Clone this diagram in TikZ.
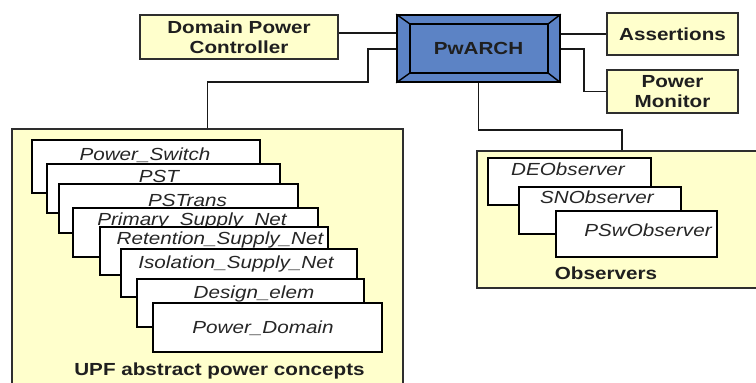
\documentclass[tikz,border=0pt]{standalone}
\usepackage{fontspec}
\setmainfont{Liberation Sans}[FakeStretch=1.18]
\definecolor{boxyellow}{RGB}{255,255,204}
\definecolor{pwblue}{RGB}{92,131,197}
\begin{document}
\begin{tikzpicture}[x=1pt,y=-1pt,
  ybox/.style={draw=black!82, fill=boxyellow, line width=1.7pt, inner sep=0pt, align=center,
    font=\bfseries\fontsize{17.5}{20}\selectfont, text=black!88},
  card/.style={draw=black, fill=white, line width=1.4pt, inner sep=0pt},
  cardtext/.style={font=\itshape\fontsize{17.5}{20}\selectfont, inner sep=0pt, text=black!85, anchor=base},
  boldlabel/.style={font=\bfseries\fontsize{17.5}{20}\selectfont, inner sep=0pt, text=black!88, anchor=base},
  conn/.style={draw=black!90, line width=1.8pt},
]
\useasboundingbox (0,0) rectangle (756,383);
\clip (0,0) rectangle (756,383);
\fill[white] (0,0) rectangle (756,383);

% helper coordinates
\coordinate (y33) at (0,33);
\coordinate (y49) at (0,49);
\coordinate (r1) at (368,82);
\coordinate (r2) at (622,130);
\coordinate (x584) at (584,0);

% top boxes
\node[ybox, minimum width=198pt, minimum height=44pt] (DPC) at (239,37) {Domain Power\\Controller};
\node[ybox, minimum width=131pt, minimum height=42pt] (AS) at (672.5,34) {Assertions};
\node[ybox, minimum width=131pt, minimum height=43pt] (PM) at (672.5,91.5) {Power\\Monitor};

% PwARCH beveled box
\node[draw=black, fill=pwblue, line width=1.6pt, minimum width=163pt, minimum height=67pt,
      inner sep=0pt] (PW) at (478.5,48.5) {};
\coordinate (PWi1) at ([shift={(14,10)}]PW.north west);
\coordinate (PWi2) at ([shift={(-13,10)}]PW.north east);
\coordinate (PWi3) at ([shift={(-13,-10)}]PW.south east);
\coordinate (PWi4) at ([shift={(14,-10)}]PW.south west);
\draw[line width=1.6pt, line join=miter] (PWi1) -- (PWi2) -- (PWi3) -- (PWi4) -- cycle;
\draw[line width=1.4pt] (PW.north west) -- (PWi1) (PW.north east) -- (PWi2)
  (PW.south east) -- (PWi3) (PW.south west) -- (PWi4);
\node[font=\bfseries\fontsize{17.5}{20}\selectfont, text=black!88, inner sep=0pt] (PWt) at (478.5,48) {PwARCH};

% container boxes
\node[ybox, minimum width=391pt, minimum height=266pt] (UPF) at (207.5,262) {};
\node[ybox, minimum width=283pt, minimum height=137pt] (OBS) at (618.5,219.5) {};

% connectors
\draw[conn] (DPC.east |- y33) -- (PW.west |- y33);
\draw[conn] (PW.east |- AS.west) -- (AS.west);
\draw[conn] (PW.west |- y49) -| (r1) -| (UPF.north);
\draw[conn] (PW.east |- y49) -- (x584 |- y49) |- (PM.west);
\draw[conn] (PW.south) |- (r2) -- (r2 |- OBS.north);

% UPF cards
\node[card, minimum width=228pt, minimum height=53pt] (cPS) at (146,166.5) {};
\node[cardtext] (tPS) at (145,160) {Power\_Switch};
\node[card, minimum width=233pt, minimum height=49pt] (cPST) at (163.5,188.5) {};
\node[cardtext] (tPST) at (159,182) {PST};
\node[card, minimum width=239pt, minimum height=49pt] (cPSTr) at (178.5,208.5) {};
\node[cardtext] (tPSTr) at (187.5,206.5) {PSTrans};
\node[card, minimum width=245pt, minimum height=49pt] (cPri) at (195.5,232.5) {};
\node[cardtext] (tPri) at (192,225) {Primary\_Supply\_Net};
\node[card, minimum width=228pt, minimum height=48pt] (cRet) at (214,251) {};
\node[cardtext] (tRet) at (220,244) {Retention\_Supply\_Net};
\node[card, minimum width=236pt, minimum height=48pt] (cIso) at (239,273) {};
\node[cardtext] (tIso) at (236,268) {Isolation\_Supply\_Net};
\node[card, minimum width=227pt, minimum height=48pt] (cDes) at (250.5,303) {};
\node[cardtext] (tDes) at (254,298) {Design\_elem};
\node[card, minimum width=229pt, minimum height=49pt] (cPD) at (267.5,327.5) {};
\node[cardtext] (tPD) at (263,333) {Power\_Domain};
\node[boldlabel] (UPFl) at (219.5,375) {UPF abstract power concepts};

% Observer cards
\node[card, minimum width=163pt, minimum height=47pt] (cDE) at (569.5,181.5) {};
\node[cardtext] (tDE) at (568,175) {DEObserver};
\node[card, minimum width=162pt, minimum height=47pt] (cSN) at (600,210.5) {};
\node[cardtext] (tSN) at (597,203) {SNObserver};
\node[card, minimum width=161pt, minimum height=46pt] (cPSw) at (636.5,234) {};
\node[cardtext] (tPSw) at (648,236) {PSwObserver};
\node[boldlabel] (OBSl) at (606,279) {Observers};
\end{tikzpicture}
\end{document}
